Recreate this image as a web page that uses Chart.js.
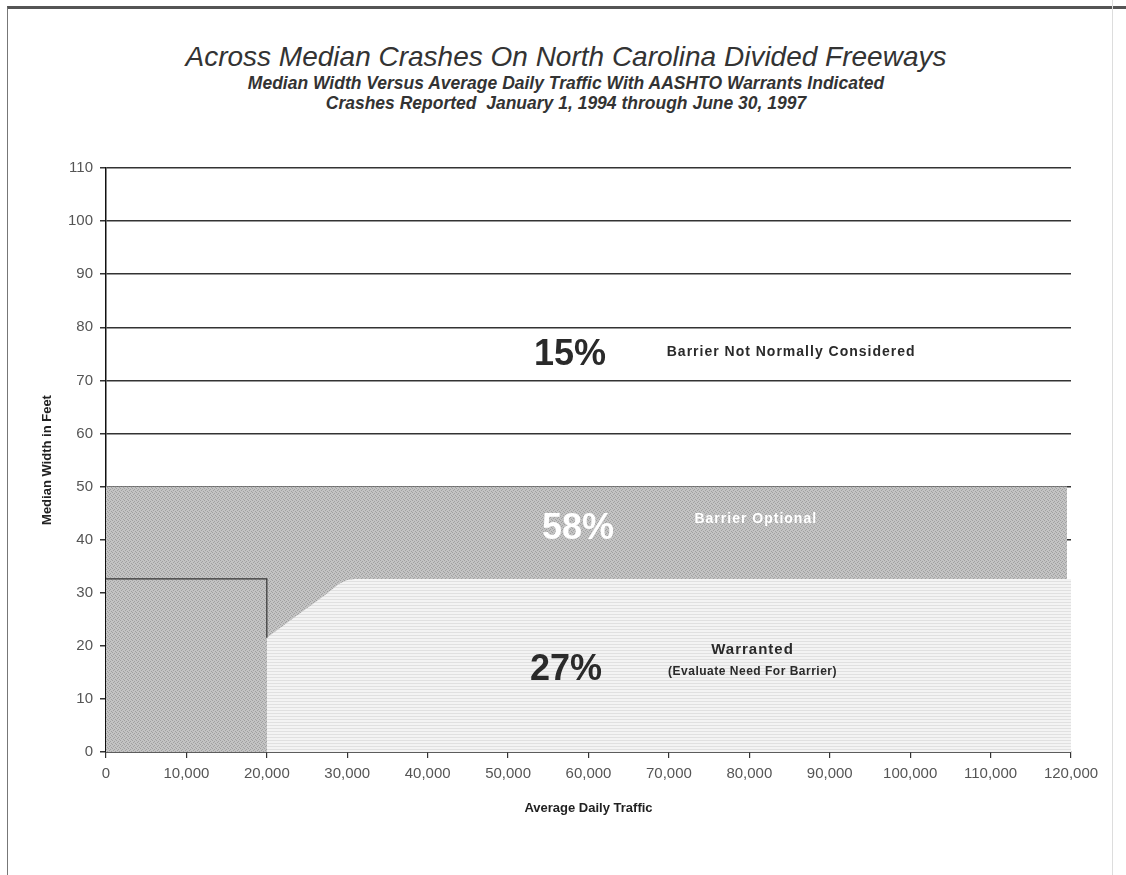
<!DOCTYPE html>
<html>
<head>
<meta charset="utf-8">
<script src="https://cdn.jsdelivr.net/npm/chart.js@4.4.1/dist/chart.umd.min.js"></script>
<style>
  html, body { margin: 0; padding: 0; background: #fff; }
  #page { position: absolute; left: 0; top: 0; width: 1126px; height: 875px; overflow: hidden;
          font-family: 'Liberation Sans', Arial, sans-serif; }
  #frame { position: absolute; left: 7px; top: 6px; width: 1130px; height: 880px;
           border-top: 3px solid #555; border-left: 1px solid #777; }
  #scanline { position: absolute; left: 1112px; top: 0; width: 1px; height: 875px; background: #ddd; }
  #wrap { position: absolute; left: 0; top: 0; width: 1126px; height: 875px; }
  .t { position: absolute; left: 0; width: 1132px; text-align: center; font-style: italic; white-space: nowrap; }
  #title { top: 40px; font-size: 28px; line-height: 34px; color: #333; }
  .sub { font-size: 17.5px; line-height: 20px; font-weight: bold; color: #333; }
  #sub1 { top: 73px; }
  #sub2 { top: 93px; }
</style>
</head>
<body>
<div id="page">
  <div id="frame"></div>
  <div id="scanline"></div>
  <div class="t" id="title">Across Median Crashes On North Carolina Divided Freeways</div>
  <div class="t sub" id="sub1">Median Width Versus Average Daily Traffic With AASHTO Warrants Indicated</div>
  <div class="t sub" id="sub2">Crashes Reported&nbsp; January 1, 1994 through June 30, 1997</div>
  <div id="wrap"><canvas id="myChart"></canvas></div>
</div>
<script>
// "Barrier Optional" band: everything below 50 ft
const optionalX = [0, 119500];
const optionalY = [50, 50];

// "Warranted" zone boundary (ADT > 20,000, narrow medians)
const warrantedX = [20000, 20000, 24000, 27000, 29000, 30000, 31000, 120000, 120000];
const warrantedY = [0, 21.5, 26, 29.3, 31.7, 32.4, 32.6, 32.6, 0];

// outline of the low-volume box
const boxX = [0, 20000, 20000];
const boxY = [32.6, 32.6, 21.5];

// region labels (data coordinates)
const regionText = ["15%", "Barrier Not Normally Considered", "58%", "Barrier Optional",
                    "27%", "Warranted", "(Evaluate Need For Barrier)"];
const regionX = [57700, 85200, 58700, 80800, 57200, 80400, 80400];
const regionY = [74.8, 75.3, 42, 43.8, 15.4, 19.2, 15.2];

const toPoints = (xs, ys) => xs.map((x, i) => ({ x: x, y: ys[i] }));

// small repeating tiles to imitate the printed shading
function makePattern(w, h, base, dots, dotColor) {
  const c = document.createElement("canvas");
  c.width = w;
  c.height = h;
  const g = c.getContext("2d");
  g.fillStyle = base;
  g.fillRect(0, 0, w, h);
  g.fillStyle = dotColor;
  dots.forEach(([x, y, dw]) => g.fillRect(x, y, dw || 1, 1));
  return g.createPattern(c, "repeat");
}

const darkFill = makePattern(4, 4, "#c3c3c3", [[0, 0], [2, 1], [1, 2], [3, 3]], "#a0a0a0");
const lightFill = makePattern(4, 3, "#f3f3f3", [[0, 2, 4]], "#e0e0e0");

const labelPlugin = {
  id: "regionLabels",
  afterDraw(chart) {
    const ctx = chart.ctx;
    const xs = chart.scales.x;
    const ys = chart.scales.y;
    const fam = "'Liberation Sans', Arial, sans-serif";
    const styles = [
      { font: "bold 36px " + fam, color: "#2a2a2a", sp: "0px" },
      { font: "bold 14px " + fam, color: "#2a2a2a", sp: "1px" },
      { font: "bold 36px " + fam, color: "#ffffff", sp: "0px" },
      { font: "bold 14px " + fam, color: "#ffffff", sp: "1px" },
      { font: "bold 36px " + fam, color: "#2a2a2a", sp: "0px" },
      { font: "bold 15px " + fam, color: "#2a2a2a", sp: "1px" },
      { font: "bold 12px " + fam, color: "#2a2a2a", sp: "0.5px" },
    ];
    ctx.save();
    ctx.textAlign = "center";
    ctx.textBaseline = "middle";
    regionText.forEach((t, i) => {
      ctx.font = styles[i].font;
      ctx.fillStyle = styles[i].color;
      ctx.letterSpacing = styles[i].sp;
      ctx.fillText(t, xs.getPixelForValue(regionX[i]), ys.getPixelForValue(regionY[i]));
    });
    ctx.restore();
  },
};

const ctx = document.getElementById("myChart").getContext("2d");
new Chart(ctx, {
  type: "line",
  data: {
    datasets: [
      {
        label: "box",
        data: toPoints(boxX, boxY),
        borderColor: "#333",
        borderWidth: 1.2,
        pointRadius: 0,
        fill: false,
      },
      {
        label: "Warranted",
        data: toPoints(warrantedX, warrantedY),
        borderWidth: 0,
        borderColor: "rgba(0,0,0,0)",
        backgroundColor: lightFill,
        pointRadius: 0,
        tension: 0,
        fill: "origin",
      },
      {
        label: "Barrier Optional",
        data: toPoints(optionalX, optionalY),
        borderWidth: 0,
        borderColor: "rgba(0,0,0,0)",
        backgroundColor: darkFill,
        pointRadius: 0,
        fill: "origin",
      },
    ],
  },
  options: {
    responsive: true,
    maintainAspectRatio: false,
    animation: false,
    layout: { padding: { top: 168, left: 35, right: 55, bottom: 59 } },
    plugins: {
      legend: { display: false },
      tooltip: { enabled: false },
    },
    scales: {
      x: {
        type: "linear",
        min: 0,
        max: 120000,
        z: 1,
        afterFit: (s) => { s.height = 64; },
        ticks: {
          stepSize: 10000,
          color: "#555",
          padding: 7,
          maxRotation: 0,
          font: { family: "'Liberation Sans', Arial, sans-serif", size: 15 },
          callback: (v) => v.toLocaleString("en-US"),
        },
        grid: { drawOnChartArea: false, tickLength: 6, color: "#333", lineWidth: 1.2 },
        border: { display: true, color: "#222", width: 1.5 },
        title: {
          display: true,
          text: "Average Daily Traffic",
          color: "#222",
          font: { family: "'Liberation Sans', Arial, sans-serif", size: 13, weight: "bold" },
          padding: { top: 0, bottom: 0 },
        },
      },
      y: {
        min: 0,
        max: 110,
        z: 1,
        afterFit: (s) => { s.width = 71; },
        ticks: {
          stepSize: 10,
          color: "#555",
          padding: 7,
          font: { family: "'Liberation Sans', Arial, sans-serif", size: 15 },
        },
        grid: { color: "#333", lineWidth: 1.5, tickLength: 6 },
        border: { display: true, color: "#111", width: 1.5 },
        title: {
          display: true,
          text: "Median Width in Feet",
          color: "#222",
          font: { family: "'Liberation Sans', Arial, sans-serif", size: 13, weight: "bold" },
          padding: { top: 5, bottom: 0 },
        },
      },
    },
  },
  plugins: [labelPlugin],
});
</script>
</body>
</html>
